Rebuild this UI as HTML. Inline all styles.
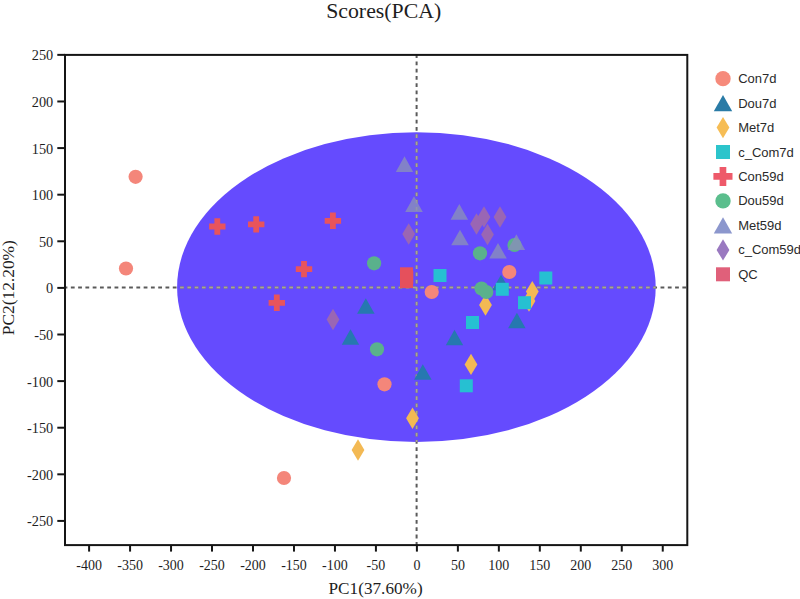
<!DOCTYPE html><html><head><meta charset="utf-8"><style>html,body{margin:0;padding:0;background:#fff;}svg{display:block;}text{font-family:"Liberation Serif",serif;fill:#1e1e1e;}.lg{font-family:"Liberation Sans",sans-serif;font-size:13px;fill:#2a2a2a;}</style></head><body>
<svg width="800" height="599" viewBox="0 0 800 599">
<rect width="800" height="599" fill="#fff"/>
<defs><clipPath id="ec"><ellipse cx="416.4" cy="287.2" rx="239.3" ry="154.9"/></clipPath><clipPath id="pc"><rect x="65.0" y="54.9" width="622.3" height="490.20000000000005"/></clipPath></defs>
<ellipse cx="416.4" cy="287.2" rx="239.3" ry="154.9" fill="#654BFE"/>
<g clip-path="url(#pc)"><line x1="63.57" y1="287.6" x2="687.3" y2="287.6" stroke-width="2" stroke-dasharray="3.8 3.48" stroke="#5a5a5a"/><line x1="416.6" y1="54.12" x2="416.6" y2="545.1" stroke-width="2" stroke-dasharray="3.8 3.48" stroke="#5a5a5a"/></g>
<g clip-path="url(#ec)"><line x1="63.57" y1="287.6" x2="687.3" y2="287.6" stroke-width="2" stroke-dasharray="3.8 3.48" stroke="#a9a596"/><line x1="416.6" y1="54.12" x2="416.6" y2="545.1" stroke-width="2" stroke-dasharray="3.8 3.48" stroke="#a9a596"/></g>
<circle cx="135.6" cy="176.8" r="7.10" fill="#F4867A"/>
<circle cx="126.0" cy="268.5" r="7.10" fill="#F4867A"/>
<circle cx="284.0" cy="478.0" r="7.10" fill="#F4867A"/>
<circle cx="384.5" cy="384.3" r="7.10" fill="#F4867A"/>
<circle cx="431.7" cy="292.0" r="7.10" fill="#F4867A"/>
<circle cx="509.3" cy="272.0" r="7.10" fill="#F4867A"/>
<polygon points="501.0,274.7 509.8,290.3 492.2,290.3" fill="#2678B0"/>
<polygon points="516.9,312.7 525.6,328.3 508.1,328.3" fill="#2678B0"/>
<polygon points="365.8,298.2 374.6,313.8 357.1,313.8" fill="#2678B0"/>
<polygon points="350.5,329.2 359.2,344.8 341.8,344.8" fill="#2678B0"/>
<polygon points="454.5,329.7 463.2,345.3 445.8,345.3" fill="#2678B0"/>
<polygon points="422.8,364.2 431.6,379.8 414.1,379.8" fill="#2678B0"/>
<polygon points="532.3,280.9 538.7,291.6 532.3,302.3 525.9,291.6" fill="#F3B954"/>
<polygon points="529.0,290.3 535.4,301.0 529.0,311.7 522.6,301.0" fill="#F3B954"/>
<polygon points="485.5,294.3 491.9,305.0 485.5,315.7 479.1,305.0" fill="#F3B954"/>
<polygon points="471.0,353.7 477.4,364.4 471.0,375.1 464.6,364.4" fill="#F3B954"/>
<polygon points="412.5,407.6 418.9,418.3 412.5,429.0 406.1,418.3" fill="#F3B954"/>
<polygon points="358.0,439.3 364.4,450.0 358.0,460.7 351.6,450.0" fill="#F3B954"/>
<rect x="433.5" y="269.0" width="13.0" height="13.0" fill="#26C0D2"/>
<rect x="539.3" y="271.5" width="13.0" height="13.0" fill="#26C0D2"/>
<rect x="495.8" y="282.8" width="13.0" height="13.0" fill="#26C0D2"/>
<rect x="466.0" y="316.0" width="13.0" height="13.0" fill="#26C0D2"/>
<rect x="459.8" y="379.3" width="13.0" height="13.0" fill="#26C0D2"/>
<rect x="518.0" y="296.2" width="13.0" height="13.0" fill="#26C0D2"/>
<path d="M214.4,218.3h5.8v5.3h5.3v5.8h-5.3v5.3h-5.8v-5.3h-5.3v-5.8h5.3z" fill="#E8545C"/>
<path d="M253.3,216.2h5.8v5.3h5.3v5.8h-5.3v5.3h-5.8v-5.3h-5.3v-5.8h5.3z" fill="#E8545C"/>
<path d="M330.0,212.6h5.8v5.3h5.3v5.8h-5.3v5.3h-5.8v-5.3h-5.3v-5.8h5.3z" fill="#E8545C"/>
<path d="M301.1,260.9h5.8v5.3h5.3v5.8h-5.3v5.3h-5.8v-5.3h-5.3v-5.8h5.3z" fill="#E8545C"/>
<path d="M273.9,294.6h5.8v5.3h5.3v5.8h-5.3v5.3h-5.8v-5.3h-5.3v-5.8h5.3z" fill="#E8545C"/>
<circle cx="374.1" cy="263.3" r="7.10" fill="#5AB18C"/>
<circle cx="377.0" cy="349.3" r="7.10" fill="#5AB18C"/>
<circle cx="480.0" cy="253.3" r="7.10" fill="#5AB18C"/>
<circle cx="514.5" cy="245.0" r="7.10" fill="#5AB18C"/>
<circle cx="481.5" cy="288.5" r="7.10" fill="#5AB18C"/>
<circle cx="486.3" cy="292.0" r="7.10" fill="#5AB18C"/>
<polygon points="404.5,156.3 413.2,171.9 395.8,171.9" fill="#898FBA" fill-opacity="0.8"/>
<polygon points="414.0,196.3 422.8,211.9 405.2,211.9" fill="#898FBA" fill-opacity="0.8"/>
<polygon points="459.3,204.1 468.1,219.7 450.6,219.7" fill="#898FBA" fill-opacity="0.8"/>
<polygon points="460.0,229.7 468.8,245.3 451.2,245.3" fill="#898FBA" fill-opacity="0.8"/>
<polygon points="498.0,243.0 506.8,258.6 489.2,258.6" fill="#898FBA" fill-opacity="0.8"/>
<polygon points="516.4,234.3 525.1,249.9 507.6,249.9" fill="#898FBA" fill-opacity="0.8"/>
<polygon points="408.7,223.3 415.1,234.0 408.7,244.7 402.3,234.0" fill="#9A66B4"/>
<polygon points="333.0,308.8 339.4,319.5 333.0,330.2 326.6,319.5" fill="#9A66B4"/>
<polygon points="476.5,213.3 482.9,224.0 476.5,234.7 470.1,224.0" fill="#9A66B4"/>
<polygon points="484.0,206.3 490.4,217.0 484.0,227.7 477.6,217.0" fill="#9A66B4"/>
<polygon points="487.5,223.8 493.9,234.5 487.5,245.2 481.1,234.5" fill="#9A66B4"/>
<polygon points="500.0,206.3 506.4,217.0 500.0,227.7 493.6,217.0" fill="#9A66B4"/>
<rect x="400.0" y="267.3" width="13.0" height="13.0" fill="#E5505C"/>
<rect x="400.3" y="271.0" width="13.0" height="13.0" fill="#E5505C"/>
<rect x="400.0" y="275.1" width="13.0" height="13.0" fill="#E5505C"/>
<rect x="65.0" y="54.9" width="622.3" height="490.20000000000005" fill="none" stroke="#151515" stroke-width="2"/>
<line x1="57.3" y1="54.87" x2="65.0" y2="54.87" stroke="#151515" stroke-width="2"/>
<text x="53.2" y="60.37" font-size="14.3" text-anchor="end">250</text>
<line x1="57.3" y1="101.48" x2="65.0" y2="101.48" stroke="#151515" stroke-width="2"/>
<text x="53.2" y="106.98" font-size="14.3" text-anchor="end">200</text>
<line x1="57.3" y1="148.08" x2="65.0" y2="148.08" stroke="#151515" stroke-width="2"/>
<text x="53.2" y="153.58" font-size="14.3" text-anchor="end">150</text>
<line x1="57.3" y1="194.69" x2="65.0" y2="194.69" stroke="#151515" stroke-width="2"/>
<text x="53.2" y="200.19" font-size="14.3" text-anchor="end">100</text>
<line x1="57.3" y1="241.29" x2="65.0" y2="241.29" stroke="#151515" stroke-width="2"/>
<text x="53.2" y="246.79" font-size="14.3" text-anchor="end">50</text>
<line x1="57.3" y1="287.90" x2="65.0" y2="287.90" stroke="#151515" stroke-width="2"/>
<text x="53.2" y="293.40" font-size="14.3" text-anchor="end">0</text>
<line x1="57.3" y1="334.50" x2="65.0" y2="334.50" stroke="#151515" stroke-width="2"/>
<text x="53.2" y="340.00" font-size="14.3" text-anchor="end">-50</text>
<line x1="57.3" y1="381.11" x2="65.0" y2="381.11" stroke="#151515" stroke-width="2"/>
<text x="53.2" y="386.61" font-size="14.3" text-anchor="end">-100</text>
<line x1="57.3" y1="427.71" x2="65.0" y2="427.71" stroke="#151515" stroke-width="2"/>
<text x="53.2" y="433.21" font-size="14.3" text-anchor="end">-150</text>
<line x1="57.3" y1="474.32" x2="65.0" y2="474.32" stroke="#151515" stroke-width="2"/>
<text x="53.2" y="479.82" font-size="14.3" text-anchor="end">-200</text>
<line x1="57.3" y1="520.92" x2="65.0" y2="520.92" stroke="#151515" stroke-width="2"/>
<text x="53.2" y="526.42" font-size="14.3" text-anchor="end">-250</text>
<line x1="89.10" y1="545.1" x2="89.10" y2="551.6" stroke="#151515" stroke-width="2"/>
<text x="89.10" y="569.8" font-size="14" text-anchor="middle">-400</text>
<line x1="130.07" y1="545.1" x2="130.07" y2="551.6" stroke="#151515" stroke-width="2"/>
<text x="130.07" y="569.8" font-size="14" text-anchor="middle">-350</text>
<line x1="171.05" y1="545.1" x2="171.05" y2="551.6" stroke="#151515" stroke-width="2"/>
<text x="171.05" y="569.8" font-size="14" text-anchor="middle">-300</text>
<line x1="212.02" y1="545.1" x2="212.02" y2="551.6" stroke="#151515" stroke-width="2"/>
<text x="212.02" y="569.8" font-size="14" text-anchor="middle">-250</text>
<line x1="253.00" y1="545.1" x2="253.00" y2="551.6" stroke="#151515" stroke-width="2"/>
<text x="253.00" y="569.8" font-size="14" text-anchor="middle">-200</text>
<line x1="293.97" y1="545.1" x2="293.97" y2="551.6" stroke="#151515" stroke-width="2"/>
<text x="293.97" y="569.8" font-size="14" text-anchor="middle">-150</text>
<line x1="334.95" y1="545.1" x2="334.95" y2="551.6" stroke="#151515" stroke-width="2"/>
<text x="334.95" y="569.8" font-size="14" text-anchor="middle">-100</text>
<line x1="375.92" y1="545.1" x2="375.92" y2="551.6" stroke="#151515" stroke-width="2"/>
<text x="375.92" y="569.8" font-size="14" text-anchor="middle">-50</text>
<line x1="416.90" y1="545.1" x2="416.90" y2="551.6" stroke="#151515" stroke-width="2"/>
<text x="416.90" y="569.8" font-size="14" text-anchor="middle">0</text>
<line x1="457.88" y1="545.1" x2="457.88" y2="551.6" stroke="#151515" stroke-width="2"/>
<text x="457.88" y="569.8" font-size="14" text-anchor="middle">50</text>
<line x1="498.85" y1="545.1" x2="498.85" y2="551.6" stroke="#151515" stroke-width="2"/>
<text x="498.85" y="569.8" font-size="14" text-anchor="middle">100</text>
<line x1="539.82" y1="545.1" x2="539.82" y2="551.6" stroke="#151515" stroke-width="2"/>
<text x="539.82" y="569.8" font-size="14" text-anchor="middle">150</text>
<line x1="580.80" y1="545.1" x2="580.80" y2="551.6" stroke="#151515" stroke-width="2"/>
<text x="580.80" y="569.8" font-size="14" text-anchor="middle">200</text>
<line x1="621.77" y1="545.1" x2="621.77" y2="551.6" stroke="#151515" stroke-width="2"/>
<text x="621.77" y="569.8" font-size="14" text-anchor="middle">250</text>
<line x1="662.75" y1="545.1" x2="662.75" y2="551.6" stroke="#151515" stroke-width="2"/>
<text x="662.75" y="569.8" font-size="14" text-anchor="middle">300</text>
<text x="383.7" y="17.9" font-size="21.8" text-anchor="middle">Scores(PCA)</text>
<text x="375.6" y="594.2" font-size="17.2" text-anchor="middle">PC1(37.60%)</text>
<text transform="translate(14.0,287.7) rotate(-90)" font-size="17.4" text-anchor="middle">PC2(12.20%)</text>
<circle cx="723.0" cy="78.7" r="7.67" fill="#F68A7B"/>
<text class="lg" x="738.2" y="83.1">Con7d</text>
<polygon points="723.0,95.0 732.2,111.3 713.8,111.3" fill="#2A7BA6"/>
<text class="lg" x="738.2" y="107.6">Dou7d</text>
<polygon points="723.0,116.9 729.4,127.6 723.0,138.3 716.6,127.6" fill="#F6BD55"/>
<text class="lg" x="738.2" y="132.0">Met7d</text>
<rect x="716.0" y="145.0" width="14.0" height="14.0" fill="#2CC4CB"/>
<text class="lg" x="738.2" y="156.5">c_Com7d</text>
<path d="M719.6,166.9h6.7v6.2h6.2v6.7h-6.2v6.2h-6.7v-6.2h-6.2v-6.7h6.2z" fill="#EE5A6A"/>
<text class="lg" x="738.2" y="180.9">Con59d</text>
<circle cx="723.0" cy="200.9" r="7.67" fill="#5BBE8D"/>
<text class="lg" x="738.2" y="205.3">Dou59d</text>
<polygon points="723.0,217.2 732.2,233.6 713.8,233.6" fill="#8C97CD"/>
<text class="lg" x="738.2" y="229.8">Met59d</text>
<polygon points="723.0,239.2 729.4,249.9 723.0,260.6 716.6,249.9" fill="#9A79C0"/>
<text class="lg" x="738.2" y="254.3">c_Com59d</text>
<rect x="716.0" y="267.3" width="14.0" height="14.0" fill="#E0607A"/>
<text class="lg" x="738.2" y="278.7">QC</text>
</svg></body></html>
